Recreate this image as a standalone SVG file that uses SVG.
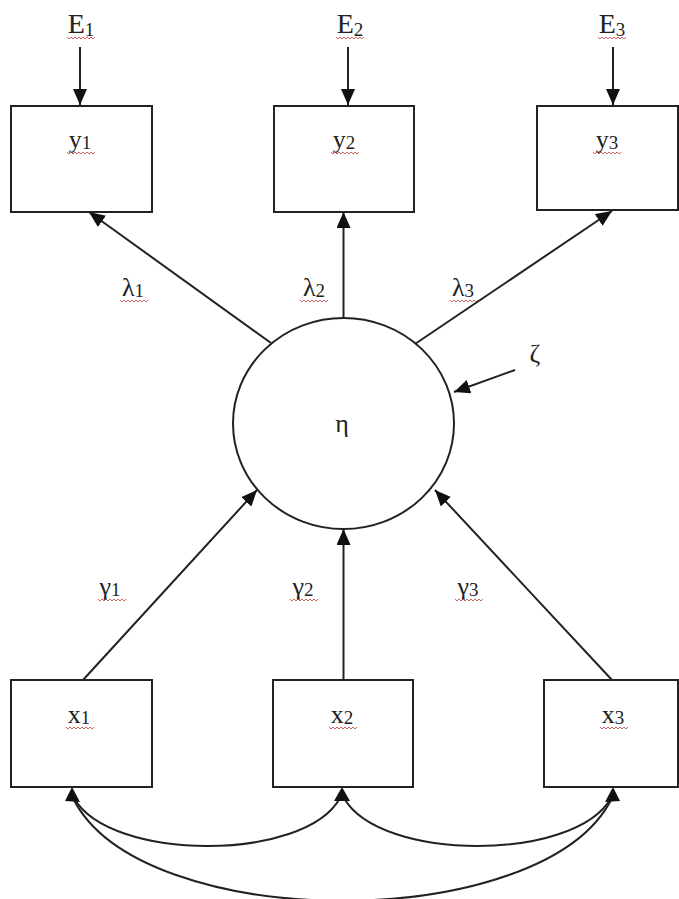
<svg xmlns="http://www.w3.org/2000/svg" xmlns:xlink="http://www.w3.org/1999/xlink" width="679" height="899" viewBox="0 0 679 899">
<style>
.box{fill:#fff;stroke:#222;stroke-width:2}
.ln{fill:none;stroke:#222;stroke-width:2}
.hd{fill:#111}
.lb{font-family:"Liberation Serif","Times New Roman",serif;font-size:26px;fill:#222;text-anchor:middle}
.big{font-size:28px}
.sub{font-size:19px}
.sq{fill:none;stroke:#c8504a;stroke-width:0.9}
</style>
<defs>
<marker id="ah" viewBox="0 0 16 14" refX="16" refY="7" markerWidth="16" markerHeight="14" markerUnits="userSpaceOnUse" orient="auto-start-reverse">
<path d="M0,0 L16,7 L0,14 Z" fill="#111"/>
</marker>
<path id="sq" d="M0,0 l2,2 l2,-2 l2,2 l2,-2 l2,2 l2,-2 l2,2 l2,-2 l2,2 l2,-2 l2,2 l2,-2 l2,2 l2,-2"/>
</defs>

<g id="connectors">
<line class="ln" x1="80" y1="47" x2="80" y2="105" marker-end="url(#ah)"/>
<line class="ln" x1="348" y1="47" x2="348" y2="105" marker-end="url(#ah)"/>
<line class="ln" x1="613" y1="47" x2="613" y2="105" marker-end="url(#ah)"/>
<line class="ln" x1="271" y1="343" x2="89" y2="212" marker-end="url(#ah)"/>
<line class="ln" x1="343.5" y1="318" x2="343.5" y2="212" marker-end="url(#ah)"/>
<line class="ln" x1="415" y1="344" x2="612" y2="211" marker-end="url(#ah)"/>
<line class="ln" x1="515" y1="370" x2="454" y2="392" marker-end="url(#ah)"/>
<line class="ln" x1="83" y1="680" x2="257" y2="490" marker-end="url(#ah)"/>
<line class="ln" x1="343.5" y1="680" x2="343.5" y2="529" marker-end="url(#ah)"/>
<line class="ln" x1="612" y1="680" x2="435" y2="490" marker-end="url(#ah)"/>
<path class="ln" d="M74,798 C110,862 305,862 340,798"/>
<path class="ln" d="M344,798 C380,862 575,862 611,798"/>
<path class="ln" d="M73,798 C140,935 545,935 612,798"/>
<path class="hd" d="M72,787 L80,802 L65,801 Z"/>
<path class="hd" d="M342,787 L350,801 L334,801 Z"/>
<path class="hd" d="M613,787 L620,801 L605,802 Z"/>
</g>

<g id="E1"><text class="lb big" x="81" y="33">E<tspan class="sub" dy="3">1</tspan></text><use class="sq" href="#sq" x="67" y="37"/></g>
<g id="E2"><text class="lb big" x="350" y="33">E<tspan class="sub" dy="3">2</tspan></text><use class="sq" href="#sq" x="336" y="37"/></g>
<g id="E3"><text class="lb big" x="612" y="33">E<tspan class="sub" dy="3">3</tspan></text><use class="sq" href="#sq" x="598" y="37"/></g>

<g id="y1"><rect class="box" x="11" y="106" width="141" height="106"/><text class="lb" x="80" y="148">y<tspan class="sub" dy="1">1</tspan></text><use class="sq" href="#sq" x="67" y="152"/></g>
<g id="y2"><rect class="box" x="274" y="106" width="140" height="106"/><text class="lb" x="344" y="148">y<tspan class="sub" dy="1">2</tspan></text><use class="sq" href="#sq" x="331" y="152"/></g>
<g id="y3"><rect class="box" x="537" y="106" width="141" height="104"/><text class="lb" x="607" y="148">y<tspan class="sub" dy="1">3</tspan></text><use class="sq" href="#sq" x="593" y="152"/></g>

<g id="lambda1"><text class="lb" x="133" y="296">λ<tspan class="sub" dy="1">1</tspan></text><use class="sq" href="#sq" x="120" y="300"/></g>
<g id="lambda2"><text class="lb" x="314" y="296">λ<tspan class="sub" dy="1">2</tspan></text><use class="sq" href="#sq" x="300" y="300"/></g>
<g id="lambda3"><text class="lb" x="463" y="296">λ<tspan class="sub" dy="1">3</tspan></text><use class="sq" href="#sq" x="450" y="300"/></g>

<g id="eta"><ellipse fill="#fff" stroke="#222" stroke-width="2" cx="343.5" cy="423.5" rx="110.5" ry="105.5"/><text class="lb" x="342" y="432">η</text></g>
<g id="zeta"><text class="lb" x="535" y="362">ζ</text></g>

<g id="gamma1"><text class="lb" x="110" y="595">γ<tspan class="sub" dy="1">1</tspan></text><use class="sq" href="#sq" x="98" y="599"/></g>
<g id="gamma2"><text class="lb" x="303" y="595">γ<tspan class="sub" dy="1">2</tspan></text><use class="sq" href="#sq" x="290" y="599"/></g>
<g id="gamma3"><text class="lb" x="468" y="595">γ<tspan class="sub" dy="1">3</tspan></text><use class="sq" href="#sq" x="455" y="599"/></g>

<g id="x1"><rect class="box" x="11" y="680" width="141" height="107"/><text class="lb" x="79" y="723">x<tspan class="sub" dy="1">1</tspan></text><use class="sq" href="#sq" x="66" y="727"/></g>
<g id="x2"><rect class="box" x="273" y="680" width="140" height="107"/><text class="lb" x="342" y="723">x<tspan class="sub" dy="1">2</tspan></text><use class="sq" href="#sq" x="329" y="727"/></g>
<g id="x3"><rect class="box" x="544" y="680" width="134" height="107"/><text class="lb" x="613" y="723">x<tspan class="sub" dy="1">3</tspan></text><use class="sq" href="#sq" x="600" y="727"/></g>
</svg>
